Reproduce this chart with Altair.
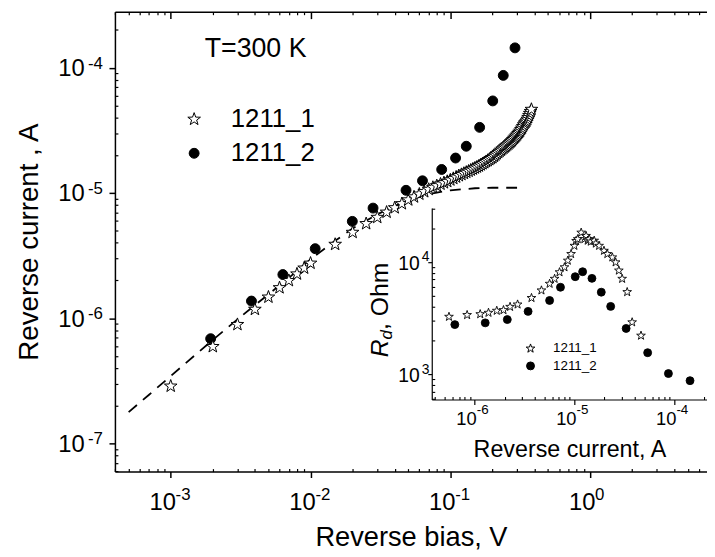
import altair as alt
import pandas as pd

FONT = "Liberation Sans"

# ---------------- main plot data ----------------
star_v = [0.001, 0.002, 0.003, 0.004, 0.005, 0.006, 0.007, 0.008, 0.009, 0.010,
          0.015, 0.020, 0.025, 0.030, 0.035, 0.040, 0.045, 0.050, 0.055, 0.060,
          0.065, 0.070, 0.075, 0.080, 0.085, 0.090, 0.095, 0.100, 0.105, 0.110,
          0.115, 0.120, 0.125, 0.130, 0.135, 0.140, 0.145, 0.150, 0.155, 0.160,
          0.165, 0.170, 0.175, 0.180, 0.185, 0.190, 0.195, 0.200, 0.205, 0.210,
          0.215, 0.220, 0.225, 0.230, 0.235, 0.240, 0.245, 0.250, 0.255, 0.260,
          0.265, 0.270, 0.275, 0.280, 0.285, 0.290, 0.295, 0.300, 0.305, 0.310,
          0.315, 0.320, 0.325, 0.330, 0.335, 0.340, 0.345, 0.350, 0.355, 0.360,
          0.365, 0.370, 0.375, 0.380]
star_i = [2.9e-7, 6.0e-7, 9.0e-7, 1.19e-6, 1.49e-6, 1.77e-6, 2.02e-6, 2.28e-6, 2.54e-6, 2.78e-6,
          3.93e-6, 4.90e-6, 5.75e-6, 6.45e-6, 7.10e-6, 7.70e-6, 8.30e-6, 8.90e-6, 9.40e-6, 9.90e-6,
          1.035e-5, 1.08e-5, 1.12e-5, 1.155e-5, 1.19e-5, 1.22e-5, 1.25e-5, 1.285e-5, 1.32e-5, 1.355e-5,
          1.39e-5, 1.42e-5, 1.45e-5, 1.48e-5, 1.51e-5, 1.54e-5, 1.57e-5, 1.60e-5, 1.63e-5, 1.66e-5,
          1.695e-5, 1.73e-5, 1.765e-5, 1.80e-5, 1.835e-5, 1.87e-5, 1.905e-5, 1.94e-5, 1.985e-5, 2.03e-5,
          2.08e-5, 2.13e-5, 2.175e-5, 2.22e-5, 2.27e-5, 2.31e-5, 2.355e-5, 2.40e-5, 2.445e-5, 2.49e-5,
          2.54e-5, 2.59e-5, 2.64e-5, 2.70e-5, 2.76e-5, 2.82e-5, 2.88e-5, 2.94e-5, 3.01e-5, 3.08e-5,
          3.15e-5, 3.24e-5, 3.33e-5, 3.43e-5, 3.54e-5, 3.65e-5, 3.72e-5, 3.80e-5, 3.92e-5, 4.05e-5,
          4.20e-5, 4.36e-5, 4.52e-5, 4.70e-5]

circ_v = [1.93e-3, 3.78e-3, 6.34e-3, 1.08e-2, 1.99e-2, 2.80e-2, 4.82e-2, 6.32e-2,
          8.67e-2, 0.109, 0.130, 0.162, 0.201, 0.239, 0.290]
circ_i = [6.86e-7, 1.37e-6, 2.23e-6, 3.59e-6, 5.93e-6, 7.57e-6, 1.05e-5, 1.25e-5,
          1.54e-5, 1.90e-5, 2.36e-5, 3.34e-5, 5.43e-5, 8.68e-5, 1.44e-4]

fit_v = [5e-4, 7e-4, 1e-3, 1.5e-3, 2e-3, 3e-3, 4e-3, 5e-3, 7e-3, 1e-2,
         1.5e-2, 2e-2, 3e-2, 4e-2, 5e-2, 7e-2, 0.1, 0.15, 0.2, 0.3]
fit_i = [1.78e-7, 2.45e-7, 3.45e-7, 5.1e-7, 6.7e-7, 9.8e-7, 1.27e-6, 1.55e-6, 2.1e-6, 2.95e-6,
         4.15e-6, 5.2e-6, 6.75e-6, 7.85e-6, 8.7e-6, 9.8e-6, 1.05e-5, 1.09e-5, 1.10e-5, 1.10e-5]

# ---------------- inset data ----------------
ins_star_i = [5.55e-7, 8.43e-7, 1.14e-6, 1.38e-6, 1.67e-6, 1.95e-6, 2.27e-6, 2.70e-6, 3.72e-6,
              4.68e-6, 5.65e-6, 6.34e-6, 7.10e-6, 7.96e-6, 8.59e-6, 9.27e-6, 1.00e-5, 1.04e-5,
              1.08e-5, 1.17e-5, 1.26e-5, 1.31e-5, 1.36e-5, 1.41e-5, 1.46e-5, 1.58e-5, 1.64e-5,
              1.77e-5, 1.98e-5, 2.14e-5, 2.40e-5, 2.59e-5, 2.79e-5, 3.01e-5, 3.38e-5, 3.79e-5,
              4.65e-5]
ins_star_r = [3270, 3390, 3450, 3550, 3700, 3750, 4010, 4210, 4810,
              5620, 6440, 7130, 8160, 9040, 10350, 11860, 14040, 15500,
              16100, 18400, 16100, 17200, 15600, 16100, 15300, 15600, 14700,
              14040, 12680, 11860, 11070, 10000, 8450, 7130, 5430, 2920,
              2220]
ins_circ_i = [6.35e-7, 1.28e-6, 2.13e-6, 3.44e-6, 5.65e-6, 7.26e-6, 1.02e-5, 1.21e-5,
              1.50e-5, 1.86e-5, 2.31e-5, 3.30e-5, 5.42e-5, 8.75e-5, 1.44e-4]
ins_circ_r = [2760, 2860, 3060, 3620, 4530, 5940, 7380, 8170,
              7130, 5370, 4010, 2550, 1550, 1010, 873]

series_names = ["1211_1", "1211_2"]

# ---------------- ticks (base "10" + exponent labels) ----------------
x_major = [1e-3, 1e-2, 1e-1, 1.0]
x_major_exp = ["-3", "-2", "-1", "0"]
x_minor = [4e-4, 5e-4, 6e-4, 7e-4, 8e-4, 9e-4,
           2e-3, 3e-3, 4e-3, 5e-3, 6e-3, 7e-3, 8e-3, 9e-3,
           2e-2, 3e-2, 4e-2, 5e-2, 6e-2, 7e-2, 8e-2, 9e-2,
           0.2, 0.3, 0.4, 0.5, 0.6, 0.7, 0.8, 0.9,
           2.0, 3.0, 4.0, 5.0, 6.0]
y_major = [1e-7, 1e-6, 1e-5, 1e-4]
y_major_exp = ["-7", "-6", "-5", "-4"]
y_minor = [6e-8, 7e-8, 8e-8, 9e-8,
           2e-7, 3e-7, 4e-7, 5e-7, 6e-7, 7e-7, 8e-7, 9e-7,
           2e-6, 3e-6, 4e-6, 5e-6, 6e-6, 7e-6, 8e-6, 9e-6,
           2e-5, 3e-5, 4e-5, 5e-5, 6e-5, 7e-5, 8e-5, 9e-5,
           2e-4]
ix_major = [1e-6, 1e-5, 1e-4]
ix_major_exp = ["-6", "-5", "-4"]
ix_minor = [4e-7, 5e-7, 6e-7, 7e-7, 8e-7, 9e-7,
            2e-6, 3e-6, 4e-6, 5e-6, 6e-6, 7e-6, 8e-6, 9e-6,
            2e-5, 3e-5, 4e-5, 5e-5, 6e-5, 7e-5, 8e-5, 9e-5,
            2e-4]
iy_major = [1e3, 1e4]
iy_major_exp = ["3", "4"]
iy_minor = [600, 700, 800, 900, 2000, 3000, 4000, 5000, 6000, 7000, 8000, 9000, 20000, 30000]

STAR = ("M0,-0.905L0.235,-0.229L0.951,-0.214L0.380,0.219L0.588,0.904L0,0.495"
        "L-0.588,0.904L-0.380,0.219L-0.951,-0.214L-0.235,-0.229Z")

W, H = 598, 464.5
IX0, IX1 = 320, 598
IY0, IY1 = 391.7, 198.3

main_df = pd.DataFrame({
    "V": circ_v + star_v,
    "I": circ_i + star_i,
    "series": ["1211_2"] * len(circ_v) + ["1211_1"] * len(star_v),
})
fit_df = pd.DataFrame({"V": fit_v, "I": fit_i})
ins_df = pd.DataFrame({
    "Ic": ins_circ_i + ins_star_i,
    "R": ins_circ_r + ins_star_r,
    "series": ["1211_2"] * len(ins_circ_i) + ["1211_1"] * len(ins_star_i),
})


def label_expr(vals, labels):
    expr = "'" + labels[-1] + "'"
    for v, lab in reversed(list(zip(vals[:-1], labels[:-1]))):
        expr = f"abs(datum.value - {v!r}) < {v * 0.01!r} ? '{lab}' : " + expr
    return expr


def ax(**kw):
    base = dict(grid=False, domainColor="black", tickColor="black", labelColor="black",
                titleColor="black", labelFont=FONT, titleFont=FONT, labelFlush=False,
                labelOverlap=False, titleFontWeight="normal")
    base.update(kw)
    return alt.Axis(**base)


def exp_ax(orient, vals, labels, fs, pad, off, align, offset=0):
    return ax(orient=orient, offset=offset, values=vals, labelExpr=label_expr(vals, labels),
              labelFontSize=fs, labelPadding=pad, labelOffset=off, labelAlign=align,
              ticks=False, tickSize=0, domain=False, title=None)


xs_main = alt.Scale(type="log", domain=[3.99e-4, 6.85], nice=False)
ys_main = alt.Scale(type="log", domain=[5.96e-8, 2.8e-4], nice=False)
xs_ins = alt.Scale(type="log", domain=[3.73e-7, 2.13e-4], range=[IX0, IX1], nice=False)
ys_ins = alt.Scale(type="log", domain=[593, 30200], range=[IY0, IY1], nice=False)


def legend(x, y, fs, off, rowpad):
    return alt.Legend(orient="none", legendX=x, legendY=y, title=None, labelFontSize=fs,
                      labelFont=FONT, labelColor="black", labelOffset=off, rowPadding=rowpad,
                      padding=0, symbolStrokeColor="black", symbolStrokeWidth=1,
                      symbolOpacity=1)


leg_main = legend(67, 95, 26, 24, 9)
leg_ins = legend(413, 333, 13.5, 16, 3)


def series_enc(leg, sizes):
    return dict(
        shape=alt.Shape("series:N", scale=alt.Scale(domain=series_names, range=[STAR, "circle"]), legend=leg),
        fill=alt.Fill("series:N", scale=alt.Scale(domain=series_names, range=["white", "black"]), legend=leg),
        stroke=alt.Stroke("series:N", scale=alt.Scale(domain=series_names, range=["black", "black"]), legend=leg),
        size=alt.Size("series:N", scale=alt.Scale(domain=series_names, range=sizes), legend=leg),
    )


# dashed fit line + top border with inward major ticks
fit_layer = alt.Chart(fit_df).mark_line(strokeDash=[11, 8], color="black", strokeWidth=1.8).encode(
    x=alt.X("V:Q", scale=xs_main,
            axis=ax(orient="bottom", offset=-H, values=x_major, tickSize=7, tickWidth=1.5,
                    domainWidth=1.5, labels=False, title=None)),
    y=alt.Y("I:Q", scale=ys_main, axis=None),
)

# top border inward minor ticks
top_minor = alt.Chart(main_df).mark_point(opacity=0).encode(
    x=alt.X("V:Q", scale=xs_main,
            axis=ax(orient="bottom", offset=-H, values=x_minor, tickSize=3, tickWidth=1.2,
                    domain=False, labels=False, title=None)),
    y=alt.Y("I:Q", scale=ys_main, axis=None),
)

main_pts = alt.Chart(main_df).mark_point(filled=True, strokeWidth=1, opacity=1).encode(
    x=alt.X("V:Q", scale=xs_main,
            axis=ax(orient="bottom", values=x_major, tickSize=6, tickWidth=1.5, domainWidth=1.5,
                    labelFontSize=24, labelPadding=13, labelOffset=-8.6, labelExpr="'10'",
                    title="Reverse bias, V", titleFontSize=27.5, titlePadding=10)),
    y=alt.Y("I:Q", scale=ys_main,
            axis=ax(orient="left", values=y_major, tickSize=6, tickWidth=1.5, domainWidth=1.5,
                    labelFontSize=24, labelPadding=25, labelOffset=1, labelExpr="'10'",
                    title="Reverse current , A", titleFontSize=28, titlePadding=14)),
    **series_enc(leg_main, [180, 100]),
)

main_minor = alt.Chart(main_df).mark_point(opacity=0).encode(
    x=alt.X("V:Q", scale=xs_main,
            axis=ax(orient="top", offset=-H, values=x_minor, tickSize=3, tickWidth=1.2,
                    domain=False, labels=False, title=None)),
    y=alt.Y("I:Q", scale=ys_main,
            axis=ax(orient="right", offset=-W, values=y_minor, tickSize=3, tickWidth=1.2,
                    domain=False, labels=False, title=None)),
)

main_exp = alt.Chart(main_df).mark_point(opacity=0).encode(
    x=alt.X("V:Q", scale=xs_main, axis=exp_ax("bottom", x_major, x_major_exp, 17, 15.3, 4.4, "left")),
    y=alt.Y("I:Q", scale=ys_main, axis=exp_ax("left", y_major, y_major_exp, 17, 12.7, -4.5, "right")),
)

ins_pts = alt.Chart(ins_df).mark_point(filled=True, strokeWidth=0.9, opacity=1).encode(
    x=alt.X("Ic:Q", scale=xs_ins,
            axis=ax(orient="bottom", offset=IY0 - H, values=ix_major, tickSize=5, tickWidth=1.2,
                    domainWidth=1.2, labelFontSize=18.5, labelPadding=5, labelOffset=-8.6,
                    labelExpr="'10'",
                    title="Reverse current, A", titleFontSize=23.5, titlePadding=10.5)),
    y=alt.Y("R:Q", scale=ys_ins,
            axis=ax(orient="left", offset=-IX0, values=iy_major, tickSize=4, tickWidth=1.2,
                    domainWidth=1.2, labelFontSize=19.5, labelPadding=8.7, labelOffset=1.6,
                    labelExpr="'10'", title=None)),
    **series_enc(leg_ins, [85, 64]),
)

ins_minor = alt.Chart(ins_df).mark_point(opacity=0).encode(
    x=alt.X("Ic:Q", scale=xs_ins,
            axis=ax(orient="top", offset=-IY0, values=ix_minor, tickSize=3, tickWidth=1.1,
                    domain=False, labels=False, title=None)),
    y=alt.Y("R:Q", scale=ys_ins,
            axis=ax(orient="right", offset=IX0 - W, values=iy_minor, tickSize=3, tickWidth=1.1,
                    domain=False, labels=False, title=None)),
)

ins_exp = alt.Chart(ins_df).mark_point(opacity=0).encode(
    x=alt.X("Ic:Q", scale=xs_ins,
            axis=exp_ax("bottom", ix_major, ix_major_exp, 13.5, 3.3, 1.7, "left", offset=IY0 - H)),
    y=alt.Y("R:Q", scale=ys_ins,
            axis=exp_ax("left", iy_major, iy_major_exp, 14, 2.7, -5, "right", offset=-IX0)),
)

one = pd.DataFrame({"k": [0]})
t_label = alt.Chart(one).mark_text(text="T=300 K", font=FONT, fontSize=27, align="left",
                                   baseline="middle", color="black").encode(
    x=alt.value(90.7), y=alt.value(37.7))
rd_R = alt.Chart(one).mark_text(text="R", font=FONT, fontSize=25, fontStyle="italic", angle=270,
                                align="left", baseline="alphabetic", color="black").encode(
    x=alt.value(275.7), y=alt.value(349))
rd_d = alt.Chart(one).mark_text(text="d", font=FONT, fontSize=17, fontStyle="italic", angle=270,
                                align="left", baseline="alphabetic", color="black").encode(
    x=alt.value(280), y=alt.value(331))
rd_rest = alt.Chart(one).mark_text(text=", Ohm", font=FONT, fontSize=25, angle=270,
                                   align="left", baseline="alphabetic", color="black").encode(
    x=alt.value(275.7), y=alt.value(321.5))

chart = alt.layer(
    fit_layer, top_minor, main_pts, main_minor, main_exp, ins_pts, ins_minor, ins_exp,
    t_label, rd_R, rd_d, rd_rest,
).resolve_scale(
    x="independent", y="independent", shape="independent", fill="independent",
    stroke="independent", size="independent"
).properties(
    width=W, height=H,
    autosize=alt.AutoSizeParams(type="none"),
    padding={"left": 108, "top": 1, "right": 0, "bottom": 80.5},
).configure_view(stroke=None)

chart.save("out.html", embed_options={"renderer": "svg", "actions": False})
